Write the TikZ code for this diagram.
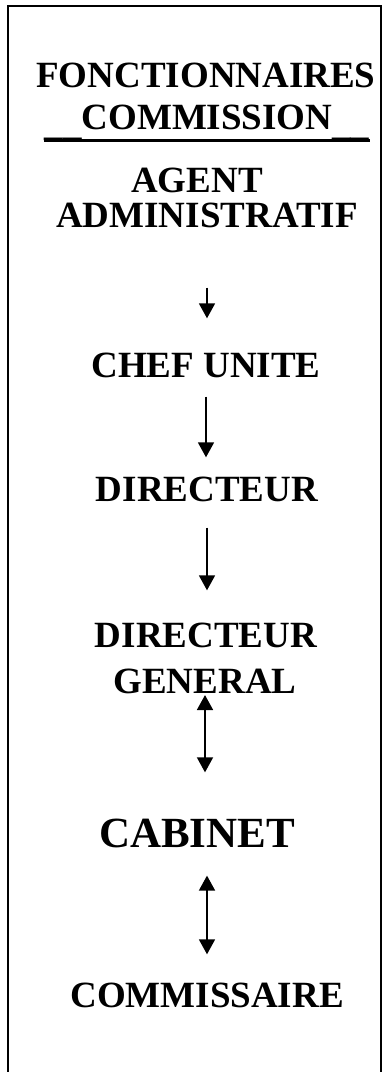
\documentclass[tikz,border=0pt]{standalone}
\usepackage{fontspec}
\setmainfont{Liberation Serif}
\usetikzlibrary{arrows.meta}

\newcommand\lowbar{\raisebox{-6pt}{\_\_}}

\tikzset{
  lbl/.style={font=\bfseries\fontsize{37}{39}\selectfont, inner sep=0pt, anchor=base},
  biglbl/.style={font=\bfseries\fontsize{43}{46}\selectfont, inner sep=0pt, anchor=base},
  arr/.style={line width=1.8pt, -{Triangle[length=15pt,width=16pt]}},
  dblarr/.style={line width=1.8pt, {Triangle[length=15pt,width=16pt]}-{Triangle[length=15pt,width=16pt]}}
}

\begin{document}
\begin{tikzpicture}[x=1pt, y=-1pt]
\useasboundingbox (0,0) rectangle (386,1072);

% frame, open at the bottom
\draw[line width=2pt] (8,1072) -- (8,6) -- (381,6) -- (381,1072);

\draw
(206, 87) node[lbl](fon){FONCTIONNAIRES}
(207, 129) node[lbl](com){\lowbar COMMISSION\lowbar}
(197, 192) node[lbl](agt){AGENT}
(207, 227) node[lbl](adm){ADMINISTRATIF}
(206, 377) node[lbl](chef){CHEF UNITE}
(207, 501) node[lbl](dir){DIRECTEUR}
(206, 647) node[lbl](dirg){DIRECTEUR}
(205, 693) node[lbl](gen){GENERAL}
(197, 847) node[biglbl](cab){CABINET}
(207, 1007) node[lbl](comm){COMMISSAIRE};

\draw[line width=3.5pt] (com.south west) -- (com.south east);

\draw[arr, shorten <=60pt, shorten >=34pt] (adm.south) -- (adm.south |- chef.north);
\draw[arr, shorten <=19pt, shorten >=19pt] (chef.south) -- (chef.south |- dir.north);
\draw[arr, shorten <=26pt, shorten >=32pt] (dir.south) -- (dir.south |- dirg.north);
\draw[dblarr, shorten <=1.5pt, shorten >=46pt] (gen.south) -- (gen.south |- cab.north);
\draw[dblarr, shorten <=28pt, shorten >=28pt] (comm.north |- cab.south) -- (comm.north);

\end{tikzpicture}
\end{document}
